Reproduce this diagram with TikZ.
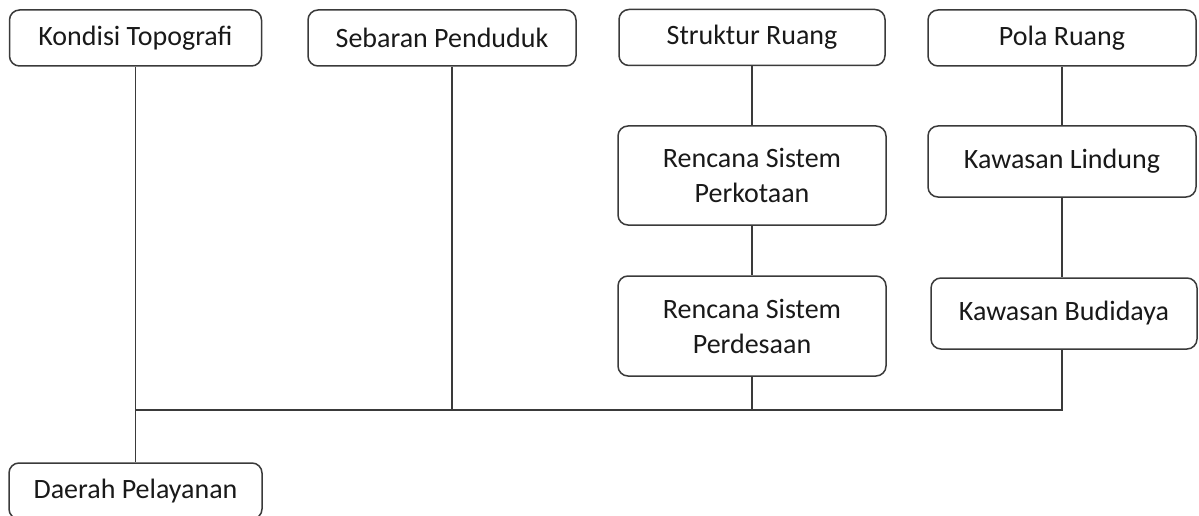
\documentclass[tikz,border=0pt]{standalone}
\usepackage{fontspec}
\setmainfont{Carlito}
\definecolor{garis}{HTML}{3A3A3A}
\tikzset{
  kotak/.style={draw=garis, line width=1.5pt, rounded corners=10pt, fill=white,
    text=black!90, align=center, inner sep=0pt,
    font=\fontsize{28}{35}\selectfont},
  kecil/.style={kotak, minimum height=56pt},
  besar/.style={kotak, minimum height=99pt},
  hubung/.style={draw=garis, line width=1.5pt}
}
\begin{document}
\begin{tikzpicture}[x=1pt, y=-1pt, line join=miter]
	\clip (0,0) rectangle (1199,516);
	% baris atas
	\node[kecil, minimum width=252pt] (topografi) at (135.5,38) {Kondisi Topografi};
	\node[kecil, minimum width=268pt] (penduduk) at (442,38) {Sebaran Penduduk};
	\node[kecil, minimum width=266pt] (struktur) at (752,37.5) {Struktur Ruang};
	\node[kecil, minimum width=268pt] (pola) at (1062,38) {Pola Ruang};
	% kolom struktur ruang
	\node[besar, minimum width=268pt] (perkotaan) at (752,175.5) {Rencana Sistem\\Perkotaan};
	\node[besar, minimum width=268pt, minimum height=100pt] (perdesaan) at (752,326) {Rencana Sistem\\Perdesaan};
	% kolom pola ruang
	\node[kecil, minimum width=268pt, minimum height=71pt] (lindung) at (1062,161.5) {Kawasan Lindung};
	\node[kecil, minimum width=266pt, minimum height=71pt] (budidaya) at (1064,313.5) {Kawasan Budidaya};
	% hasil
	\node[kecil, minimum width=253pt] (pelayanan) at (135.5,491) {Daerah Pelayanan};
	\coordinate (jalur) at (0,410);
	% garis penghubung
	\draw[hubung] (struktur) -- (perkotaan) (perkotaan) -- (perdesaan);
	\draw[hubung] (pola) -- (lindung) (lindung.south) -- (lindung.south |- budidaya.north);
	\draw[hubung] (topografi) -- (pelayanan);
	\draw[hubung] (budidaya.south -| pola) |- (topografi |- jalur);
	\draw[hubung] (perdesaan) -- (perdesaan |- jalur);
	\draw[hubung] ([xshift=10pt]penduduk.south) -- ([xshift=10pt]penduduk.south |- jalur);
\end{tikzpicture}
\end{document}
